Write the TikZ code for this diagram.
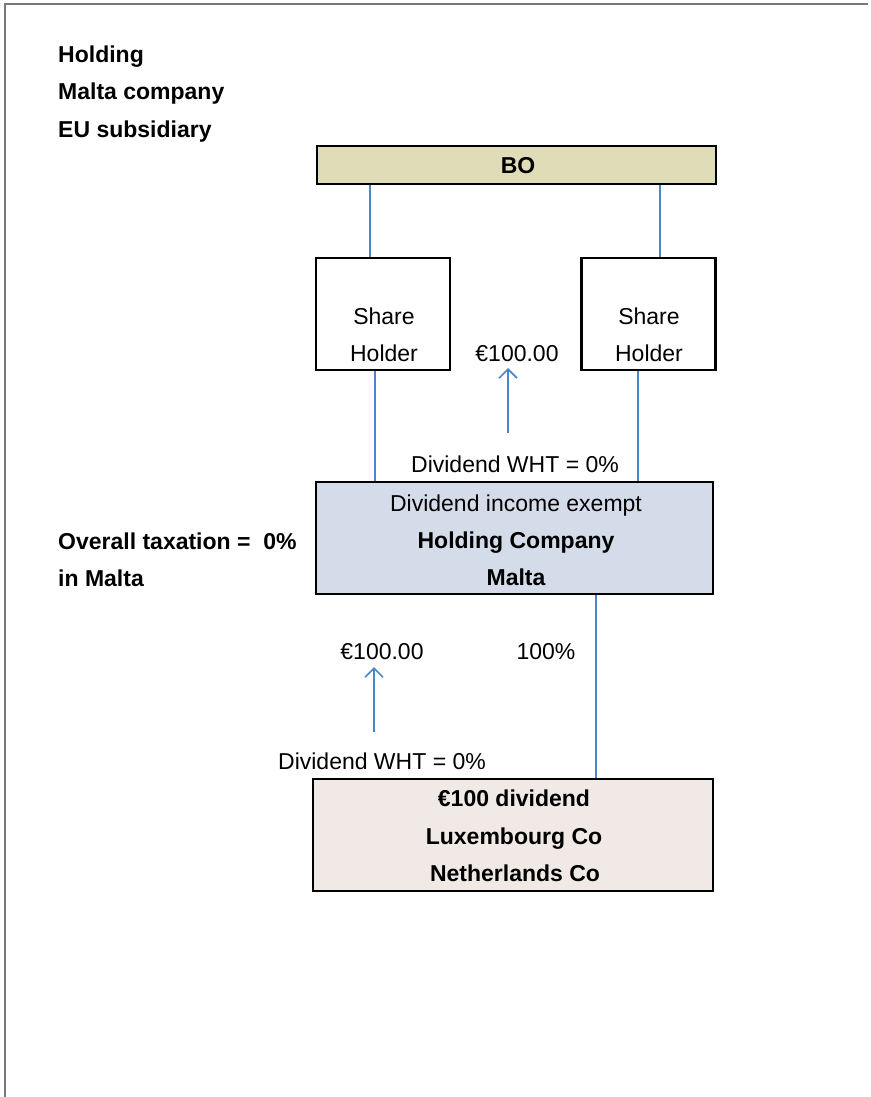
\documentclass[tikz,border=0pt]{standalone}
\usepackage{fontspec}
\setmainfont{Liberation Sans}
\usetikzlibrary{arrows.meta}
\definecolor{bofill}{RGB}{224,220,184}
\definecolor{hcfill}{RGB}{212,220,234}
\definecolor{subfill}{RGB}{241,233,230}
\definecolor{linkblue}{RGB}{74,134,200}
\definecolor{framegray}{RGB}{120,120,120}
\tikzset{
  box/.style={draw=black, line width=2.6pt, inner sep=0pt, rectangle},
  link/.style={draw=linkblue, line width=2pt},
  flow/.style={draw=linkblue, line width=2pt, -{Straight Barb[length=9pt,width=18pt,line width=1.6pt]}},
  txt/.style={inner sep=0pt, anchor=base, font=\fontsize{23}{27}\selectfont},
  btxt/.style={txt, font=\fontsize{23}{27}\selectfont\bfseries},
  ltxt/.style={btxt, anchor=base west},
}
\begin{document}
\begin{tikzpicture}[x=1pt,y=-1pt]
\useasboundingbox (0,0) rectangle (870,1097);
% page frame
\draw[framegray, line width=1.2pt] (5,1097) -- (5,4) -- (868,4);

% left labels
\node[ltxt] (l1) at (58,63) {Holding};
\node[ltxt] (l2) at (58,100) {Malta company};
\node[ltxt] (l3) at (58,137) {EU subsidiary};
\node[ltxt] (l4) at (58,549) {Overall taxation =\ \ 0\%};
\node[ltxt] (l5) at (58,586) {in Malta};

% boxes
\node[box, fill=bofill, minimum width=399pt, minimum height=38pt] (bo) at (516.5,165) {};
\node[btxt] (botxt) at (518,173) {BO};

\node[box, fill=white, minimum width=134pt, minimum height=112pt] (sh1) at (383,314) {};
\node[box, fill=white, minimum width=134pt, minimum height=112pt] (sh2) at (648.5,314) {};
\node[txt] (sh1a) at (384,324) {Share};
\node[txt] (sh1b) at (384,361) {Holder};
\node[txt] (sh2a) at (649,324) {Share};
\node[txt] (sh2b) at (649,361) {Holder};

\node[box, fill=hcfill, minimum width=397pt, minimum height=112pt] (hc) at (514.5,538) {};
\node[txt] (hc1) at (516,511) {Dividend income exempt};
\node[btxt] (hc2) at (516,548) {Holding Company};
\node[btxt] (hc3) at (516,585) {Malta};

\node[box, fill=subfill, minimum width=400pt, minimum height=112pt] (sub) at (513,835) {};
\node[btxt] (sub1) at (514,806) {€100 dividend};
\node[btxt] (sub2) at (514,844) {Luxembourg Co};
\node[btxt] (sub3) at (515,881) {Netherlands Co};

% connectors
\draw[link] (bo.south -| 370,0) -- (sh1.north -| 370,0);
\draw[link] (bo.south -| 660,0) -- (sh2.north -| 660,0);
\draw[link] (sh1.south -| 375,0) -- (hc.north -| 375,0);
\draw[link] (sh2.south -| 638,0) -- (hc.north -| 638,0);
\draw[link] (hc.south -| 596,0) -- (sub.north -| 596,0);

% dividend flows
\node[txt] (amt1) at (517,361) {€100.00};
\node[txt] (wht1) at (515,472) {Dividend WHT = 0\%};
\coordinate (f1s) at (508,433);
\draw[flow] (f1s) -- ([yshift=-7pt]amt1.base -| f1s);

\node[txt] (amt2) at (382,659) {€100.00};
\node[txt] (pct) at (546,659) {100\%};
\node[txt] (wht2) at (382,769) {Dividend WHT = 0\%};
\coordinate (f2s) at (374,732);
\draw[flow] (f2s) -- ([yshift=-8pt]amt2.base -| f2s);
\end{tikzpicture}
\end{document}
